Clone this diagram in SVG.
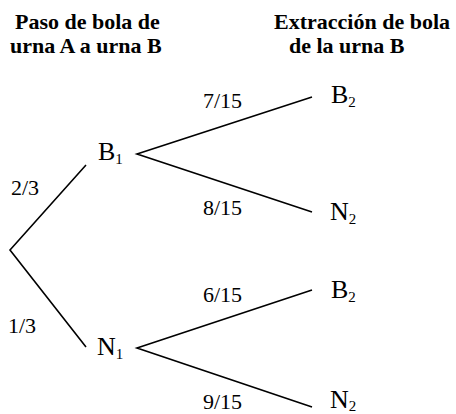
<svg xmlns="http://www.w3.org/2000/svg" width="456" height="414" viewBox="0 0 456 414">
<style>
.title{font-family:"Liberation Serif","Times New Roman",serif;font-size:22px;font-weight:bold;fill:#000}
.node{font-family:"Liberation Serif","Times New Roman",serif;font-size:26px;fill:#000}
.sub{font-size:15px}
.prob{font-family:"Liberation Serif","Times New Roman",serif;font-size:22px;fill:#000}
.edge{stroke:#000;stroke-width:1.6;fill:none}
</style>
<rect width="456" height="414" fill="#fff"/>
<g id="titles">
<text class="title" x="15" y="29">Paso de bola de</text>
<text class="title" x="10" y="53">urna A a urna B</text>
<text class="title" x="274" y="29">Extracción de bola</text>
<text class="title" x="289" y="53">de la urna B</text>
</g>
<g id="connectors">
<polyline class="edge" points="86,165 10,250 86,347"/>
<polyline class="edge" points="312,97 137,154 312,212"/>
<polyline class="edge" points="312,290 137,348 312,407"/>
</g>
<g id="labels">
<text class="prob" x="11" y="195">2/3</text>
<text class="prob" x="8" y="333">1/3</text>
<text class="prob" x="203" y="108">7/15</text>
<text class="prob" x="203" y="215">8/15</text>
<text class="prob" x="203" y="302">6/15</text>
<text class="prob" x="203" y="409">9/15</text>
</g>
<g id="B1"><text class="node" x="98" y="160">B<tspan class="sub" dy="4">1</tspan></text></g>
<g id="N1"><text class="node" x="97" y="355">N<tspan class="sub" dy="4">1</tspan></text></g>
<g id="B2a"><text class="node" x="331" y="103">B<tspan class="sub" dy="4">2</tspan></text></g>
<g id="N2a"><text class="node" x="330" y="220">N<tspan class="sub" dy="4">2</tspan></text></g>
<g id="B2b"><text class="node" x="331" y="298">B<tspan class="sub" dy="4">2</tspan></text></g>
<g id="N2b"><text class="node" x="330" y="408">N<tspan class="sub" dy="3">2</tspan></text></g>
</svg>
